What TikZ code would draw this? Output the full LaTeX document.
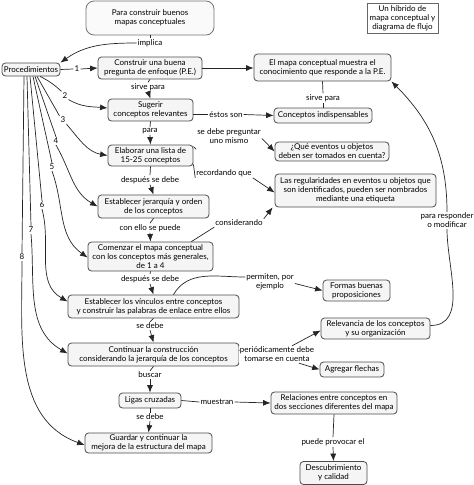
\documentclass[tikz,border=0pt]{standalone}
\usepackage{fontspec}
\setmainfont{Lato}
\usetikzlibrary{arrows.meta}
\newcommand\fsz{\fontsize{8}{9}\selectfont}
\begin{document}
\begin{tikzpicture}[x=1pt,y=-1pt,
  box/.style={draw=black!70,fill=black!4,rounded corners=3.5pt,align=center,inner sep=0.8pt,line width=0.8pt,font=\fsz},
  lbl/.style={fill=white,inner sep=1pt,align=center,font=\fsz},
  con/.style={draw=black!85,line width=0.7pt},
  arr/.style={con,-{Latex[length=7.5pt,width=6pt]}},
]
\useasboundingbox (0,0) rectangle (474,485);

% nodes
\node[box,rounded corners=8pt,draw=black!55,fill=black!2,minimum width=128pt,minimum height=34pt] (para) at (150,18) {Para construir buenos\\mapas conceptuales};
\node[draw=black!60,fill=white,line width=0.7pt,align=center,inner sep=0.8pt,font=\fsz,minimum width=71pt,minimum height=30pt] (hib) at (402.5,18) {Un híbrido de\\mapa conceptual y\\diagrama de flujo};
\node[box,minimum width=58pt,minimum height=13pt] (proc) at (31,69.5) {Procedimientos};
\node[box,minimum width=104pt,minimum height=22pt] (cons) at (150,68) {Construir una buena\\pregunta de enfoque (P.E.)};
\node[box,minimum width=137pt,minimum height=27pt] (mapa) at (322.5,67.5) {El mapa conceptual muestra el\\conocimiento que responde a la P.E.};
\node[box,minimum width=85pt,minimum height=22pt] (sug) at (150.5,110) {Sugerir\\conceptos relevantes};
\node[box,minimum width=98pt,minimum height=15pt] (ind) at (323,115.5) {Conceptos indispensables};
\node[box,minimum width=85pt,minimum height=21pt] (elab) at (150.5,155.5) {Elaborar una lista de\\15-25 conceptos};
\node[box,minimum width=114pt,minimum height=19pt] (que) at (332,151.5) {¿Qué eventos u objetos\\deben ser tomados en cuenta?};
\node[box,minimum width=161pt,minimum height=33pt] (reg) at (355.5,190.5) {Las regularidades en eventos u objetos que\\son identificados, pueden ser nombrados\\mediante una etiqueta};
\node[box,minimum width=111pt,minimum height=23pt] (jer) at (153.5,206.5) {Establecer jerarquía y orden\\de los conceptos};
\node[box,minimum width=125pt,minimum height=29pt] (com) at (150.5,256.5) {Comenzar el mapa conceptual\\con los conceptos más generales,\\de 1 a 4};
\node[box,minimum width=171pt,minimum height=23pt] (vin) at (153.5,306.5) {Establecer los vínculos entre conceptos\\y construir las palabras de enlace entre ellos};
\node[box,minimum width=67pt,minimum height=21pt] (for) at (356.5,290.5) {Formas buenas\\proposiciones};
\node[box,minimum width=109pt,minimum height=21pt] (rel) at (375.5,328.5) {Relevancia de los conceptos\\y su organización};
\node[box,minimum width=171pt,minimum height=23pt] (cont) at (153.5,354.5) {Continuar la construcción\\considerando la jerarquía de los conceptos};
\node[box,minimum width=64pt,minimum height=15pt] (agr) at (352,369.5) {Agregar flechas};
\node[box,minimum width=62pt,minimum height=15pt] (lig) at (150,400.5) {Ligas cruzadas};
\node[box,minimum width=126pt,minimum height=22pt] (relac) at (334,403) {Relaciones entre conceptos en\\dos secciones diferentes del mapa};
\node[box,minimum width=127pt,minimum height=20pt] (guar) at (148.5,443) {Guardar y continuar la\\mejora de la estructura del mapa};
\node[box,minimum width=67pt,minimum height=23pt] (desc) at (333.5,473) {Descubrimiento\\y calidad};

% labels
\node[lbl] (implica) at (150,43) {implica};
\node[lbl] (n1) at (77,69) {1};
\node[lbl] (sirve1) at (148,87) {sirve para};
\node[lbl] (sirve2) at (323,98) {sirve para};
\node[lbl] (estos) at (226,114.5) {éstos son};
\node[lbl] (paral) at (150,131) {para};
\node[lbl] (sedebe) at (229,136.5) {se debe preguntar\\uno mismo};
\node[lbl] (record) at (224,173) {recordando que};
\node[lbl] (desp1) at (150,180) {después se debe};
\node[lbl] (conello) at (150,228) {con ello se puede};
\node[lbl] (consid) at (239,223) {considerando};
\node[lbl] (desp2) at (150,279) {después se debe};
\node[lbl] (permit) at (270,281.5) {permiten, por\\ejemplo};
\node[lbl] (sedebe2) at (150,326) {se debe};
\node[lbl] (period) at (277,354.5) {periódicamente debe\\tomarse en cuenta};
\node[lbl] (buscar) at (150,375) {buscar};
\node[lbl] (muestr) at (217,402) {muestran};
\node[lbl] (sedebe3) at (150,417) {se debe};
\node[lbl] (puede) at (333,442) {puede provocar el};
\node[lbl] (resp) at (447,220.5) {para responder\\o modificar};
\node[lbl] (n2) at (65,95.5) {2};
\node[lbl] (n3) at (63,120) {3};
\node[lbl] (n4) at (56,141) {4};
\node[lbl] (n5) at (52,167) {5};
\node[lbl] (n6) at (42,205) {6};
\node[lbl] (n7) at (31,230) {7};
\node[lbl] (n8) at (22,257) {8};

% connectors
\draw[con] (para.south) -- (implica.north);
\draw[arr] (implica.west) to[out=180,in=35] (proc.north east);
\draw[con] (proc.east) -- (n1.west);
\draw[arr] (n1.east) -- (cons.west);
\draw[arr] (cons.east) -- (mapa.west |- cons.east);
\draw[con] (cons.south) -- (sirve1.north);
\draw[arr] (sirve1.south) -- (sug.north);
\draw[con] (mapa.south) -- (sirve2.north);
\draw[con] (sirve2.south) -- (ind.north);
\draw[con] (sug.east |- estos) -- (estos.west);
\draw[arr] (estos.east) -- (ind.west);
\draw[con] (sug.south) -- (paral.north);
\draw[arr] (paral.south) -- (elab.north);
\draw[con] ([yshift=-2pt]elab.north east) -- ([yshift=-4pt]sedebe.south west);
\draw[arr] ([yshift=-2pt]sedebe.east) -- (que.west);
\draw[con] ([yshift=2pt]elab.south east) -- (record.south west);
\draw[arr] (record.south east) -- ([yshift=-2pt]reg.west);
\draw[con] (elab.south) -- (desp1.north);
\draw[arr] (desp1.south) -- (jer.north);
\draw[con] (jer.south) -- (conello.north);
\draw[arr] (conello.south) -- (com.north);
\draw[con] ([xshift=-22pt]com.north east) -- (consid.south west);
\draw[arr] (consid.north east) -- ([xshift=-2pt]reg.south west);
\draw[con] (com.south) -- (desp2.north);
\draw[arr] (desp2.south) -- (vin.north);
\draw[con] ([xshift=20pt]vin.north) to[out=60,in=180] ([yshift=4.5pt]permit.west);
\draw[arr] ([yshift=-2pt]permit.east) -- (for.west);
\draw[con] (vin.south) -- (sedebe2.north);
\draw[arr] (sedebe2.south) -- (cont.north);
\draw[con] ([yshift=4pt]cont.east) -- ([yshift=4.5pt]period.west);
\draw[arr] ([xshift=15pt]period.north) -- ([yshift=-2pt]rel.west);
\draw[arr] ([xshift=22pt]period.south) -- (agr.west);
\draw[con] ([yshift=3pt]rel.east) to[out=0,in=-90] (resp.south);
\draw[arr] (resp.north) to[out=90,in=-45] (mapa.south east);
\draw[con] (cont.south) -- (buscar.north);
\draw[arr] (buscar.south) -- (lig.north);
\draw[con] (lig.east) -- (muestr.west);
\draw[arr] (muestr.east) -- (relac.west);
\draw[con] (lig.south) -- (sedebe3.north);
\draw[arr] (sedebe3.south) -- (guar.north);
\draw[con] (relac.south) -- (puede.north);
\draw[arr] (puede.south) -- (desc.north);

% procedure branches
\draw[con] ([xshift=9pt]proc.south) to[bend left=8] (n2.north west);
\draw[arr] (n2.south east) to[out=-30,in=175] ([yshift=2pt]sug.west);
\draw[con] ([xshift=6pt]proc.south) -- (n3.north west);
\draw[arr] (n3.south east) to[out=-50,in=170] (elab.west);
\draw[con] ([xshift=4pt]proc.south) -- (n4.north);
\draw[arr] (n4.south) to[out=-60,in=150] (jer.west);
\draw[con] ([xshift=2pt]proc.south) -- (n5.north);
\draw[arr] (n5.south) to[out=-70,in=145] ([yshift=-1pt]com.west);
\draw[con] ([xshift=-1pt]proc.south) -- (n6.north);
\draw[arr] (n6.south) to[out=-75,in=150] ([yshift=5pt]vin.west);
\draw[con] ([xshift=-4pt]proc.south) -- (n7.north);
\draw[arr] (n7.south) to[out=-85,in=150] ([yshift=1pt]cont.west);
\draw[con] ([xshift=-7pt]proc.south) -- (n8.north);
\draw[arr] (n8.south) to[out=-90,in=160] ([yshift=-2pt]guar.west);
\end{tikzpicture}
\end{document}
